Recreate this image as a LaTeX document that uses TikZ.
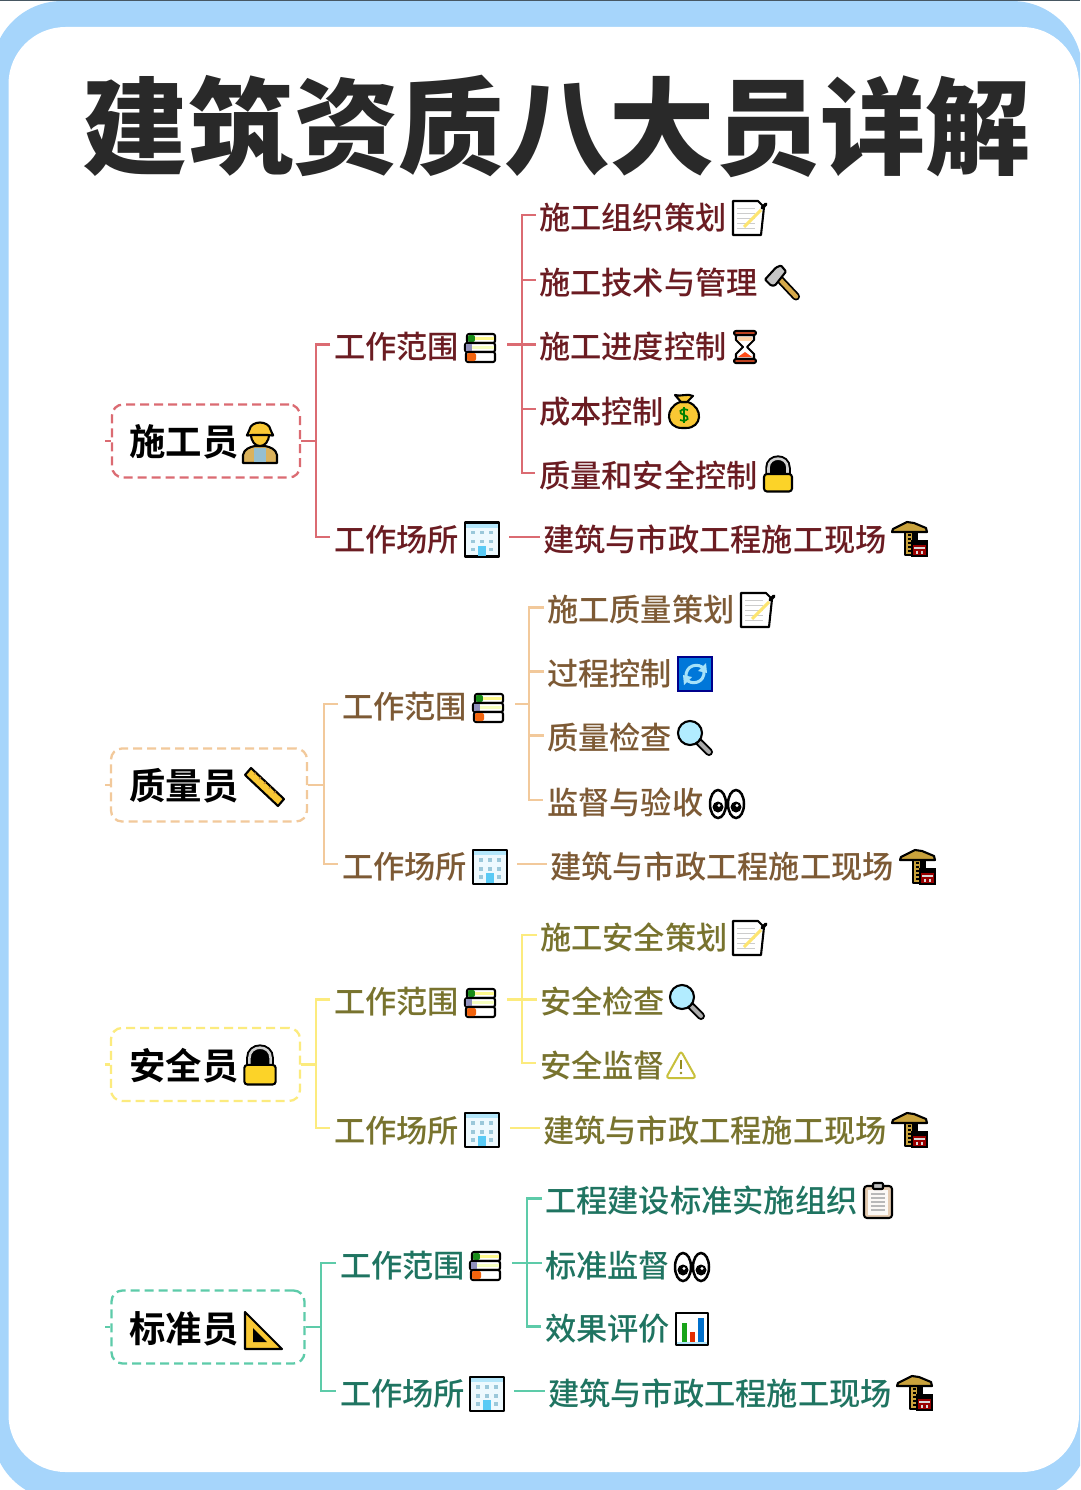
\documentclass[tikz,border=0pt]{standalone}
\usepackage{fontspec}
\newfontfamily\cjk{Noto Sans CJK SC Medium}
\newfontfamily\cjkb{Noto Sans CJK SC Bold}
\newfontfamily\cjkk{Noto Sans CJK SC Black}
\definecolor{bandc}{HTML}{A6D5FB}
\definecolor{icy}{HTML}{F9C834}
\definecolor{ictan}{HTML}{D6A94A}
\definecolor{icgold}{HTML}{C9A23C}
\tikzset{
 leaf/.style={anchor=west,xshift=-1pt,inner sep=0pt,text height=28.7pt,text depth=0pt,text=txc,font=\cjk\fontsize{31.25}{31.25}\selectfont},
 roott/.style={anchor=west,inner sep=0pt,text height=27.7pt,text depth=0pt,text=black,font=\cjkb\fontsize{36.4}{36.4}\selectfont},
 rootbox/.style={draw=lnc,line width=2.3pt,dash pattern=on 9pt off 5pt,rounded corners=11pt,minimum height=73pt,inner sep=0pt},
 conn/.style={draw=lnc,line width=2.4pt},
 ico/.style={draw=black,line width=2.1pt,line join=round,line cap=round},
 pics/icbooks/.style={code={
  \draw[ico,fill=white,rounded corners=2pt](15,-14)--(-13,-14)--(-13,-5)--(15,-5)--cycle;
  \fill[green!50!black!90,rounded corners=2pt](-12,-13) rectangle (-5,-6);\fill[yellow!45!white](-5,-11) rectangle (14,-8);
  \draw[ico,fill=white,rounded corners=2pt](15,-5)--(-15,-5)--(-15,4)--(15,4)--cycle;
  \fill[blue!25!gray!70](-14,-4) rectangle (-8,3);\fill[green!15!yellow!25!white](-8,-2) rectangle (14,1);
  \draw[ico,fill=white,rounded corners=2pt](15,4)--(-14,4)--(-14,14)--(15,14)--cycle;
  \fill[orange!75!red!90!gray,rounded corners=2pt](-13,5) rectangle (-4,13);
 }},
 pics/icbuilding/.style={code={
  \draw[ico,fill=cyan!7!white](-17,-17) rectangle (17,17);
  \fill[cyan!30!white](-16,-16) rectangle (16,-12);
  \foreach \a in {-9,0,9}\foreach \b in {-7,2}{\fill[cyan!50!gray!60](\a-1.8,\b-1.8) rectangle (\a+1.8,\b+1.8);}
  \fill[cyan!50!gray!60](-10.8,8) rectangle (-7.2,11.6);\fill[cyan!50!gray!60](7.2,8) rectangle (10.8,11.6);
  \fill[cyan!65!white](-4,6) rectangle (4,16);
 }},
 pics/icworker/.style={code={
  \draw[ico,fill=ictan!90!white](-17,20)--(-17,12) .. controls (-16,6) and (-10,4) .. (-5,3)--(5,3) .. controls (10,4) and (16,6) .. (17,12)--(17,20)--cycle;
  \fill[blue!30!cyan!40!gray!60](-6,5) rectangle (6,19);
  \draw[ico,fill=icy](-9,-9) .. controls (-9,7) and (9,7) .. (9,-9)--cycle;
  \draw[ico,fill=icy,rounded corners=2pt](-14,-7)--(-11,-11) .. controls (-9,-23) and (9,-23) .. (11,-11)--(14,-7)--(10,-8)--(-10,-8)--cycle;
 }},
 pics/icmemo/.style={code={
  \draw[ico,fill=white](-17,-17)--(8,-17)--(14,-11)--(11,17)--(-17,17)--cycle;
  \foreach \b in {-10,-5,0,5,10}{\draw[gray!40,line width=.9pt](-13,\b)--(5,\b);}
  \draw[yellow!70!orange!55!white,line width=3pt](-6,9)--(11,-8);
  \draw[black,line width=3.5pt,line cap=round](12,-10)--(16,-14);
 }},
 pics/ichammer/.style={code={
  \draw[black,line width=8pt,line cap=round](-2,-3)--(14,14);
  \draw[ictan,line width=4.4pt,line cap=round](-2,-3)--(14,14);
  \draw[ico,fill=gray!45,rounded corners=1pt](-17,-3)--(-6,-15)--(-1,-17)--(4,-11)--(-7,3)--(-11,3)--cycle;
 }},
 pics/ichourglass/.style={code={
  \draw[ico,fill=white](-9,-12)--(-9,-7)--(-2,0)--(-9,7)--(-9,12)--(9,12)--(9,7)--(2,0)--(9,-7)--(9,-12)--cycle;
  \fill[orange!35!white](-7,-10) rectangle (7,-6);
  \fill[red!55!orange!90!white](-7,10)--(7,10)--(0,5)--cycle;
  \draw[ico,fill=brown!60!red,rounded corners=2pt](-11,-16) rectangle (11,-12);
  \draw[ico,fill=brown!60!red,rounded corners=2pt](-11,12) rectangle (11,16);
 }},
 pics/icbag/.style={code={
  \draw[ico,fill=icy](-4,-9) .. controls (-20,-3) and (-18,17) .. (-2,17)--(2,17) .. controls (18,17) and (20,-3) .. (4,-9)--cycle;
  \draw[ico,fill=icy](-3,-9)--(-9,-16) .. controls (-4,-14) and (4,-18) .. (9,-15)--(3,-9)--cycle;
  \draw[green!50!black,line width=1.7pt](4,-1) .. controls (-5,-4) and (-6,3) .. (0,4) .. controls (6,5) and (5,12) .. (-4,9);
  \draw[green!50!black,line width=1.3pt](0,-4)--(0,12);
 }},
 pics/iclock/.style={code={
  \path[draw=black,fill=black,line width=6.5pt](-9.5,0)--(-9.5,-7) .. controls (-9.5,-19.5) and (9.5,-19.5) .. (9.5,-7)--(9.5,0);
  \draw[gray!35,line width=2.6pt](-9.5,0)--(-9.5,-7) .. controls (-9.5,-19.5) and (9.5,-19.5) .. (9.5,-7)--(9.5,0);
  \draw[ico,fill=yellow!65!orange!85!white,rounded corners=3pt](-14,-1) rectangle (14,16.5);
 }},
 pics/iccrane/.style={code={
  \draw[ico,fill=icgold](-5,-8) rectangle (3,16);
  \draw[ico,fill=icgold](-18,-7)--(-17,-10)--(-3,-17)--(4,-16)--(16,-11)--(17,-7)--cycle;
  \fill[black](-2,-5) rectangle (1,15);
  \foreach \b in {-3,1,5,9,13}{\fill[icgold](-3,\b) rectangle (2,\b+1.6);}
  \fill[black](3,-6) rectangle (8,3);
  \fill[black](1,1) rectangle (18,18);
  \fill[red!60!black](3,6) rectangle (16,16);
  \draw[gray!30,line width=1.1pt](4,9)--(15,9);
  \draw[gray!30,line width=1.1pt](7,11.5)--(7,15);
  \draw[gray!30,line width=1.1pt](12,11.5)--(12,15);
 }},
 pics/icruler/.style={code={
  \draw[ico,fill=icy](-19,-12)--(-13,-19)--(20,12)--(14,19)--cycle;
  \foreach \t in {.15,.3,...,.9}{\draw[brown,line width=.8pt]($(-13,-19)!\t!(20,12)$)--++(-2,2);}
 }},
 pics/iccycle/.style={code={
  \draw[draw=blue!55!black,line width=2pt,fill=blue!45!cyan!85!black](-17,-17) rectangle (17,17);
  \draw[cyan!35!white,line width=3pt](-9,3) .. controls (-10,-9) and (4,-12) .. (9,-5);
  \draw[cyan!35!white,line width=3pt](9,-3) .. controls (10,9) and (-4,12) .. (-9,5);
  \fill[cyan!35!white](11,-11)--(12,-1)--(3,-3)--cycle;
  \fill[cyan!35!white](-11,11)--(-12,1)--(-3,3)--cycle;
 }},
 pics/iclens/.style={code={
  \draw[black,line width=8pt,line cap=round](4,4)--(14,14);
  \draw[gray!65,line width=4pt,line cap=round](5,5)--(14,14);
  \draw[ico,fill=blue!25!cyan!30!white](-5,-5) circle[radius=12];
 }},
 pics/iceyes/.style={code={
  \foreach \a in {-9,9}{
   \draw[black,fill=white,line width=2.5pt](\a,0) ellipse[x radius=8,y radius=14];
   \fill[black](\a,3) circle[radius=5.5];
   \fill[white](\a+1,1.5) circle[radius=1.6];}
 }},
 pics/icwarn/.style={code={
  \draw[draw=yellow!30!olive!70!white,line width=2pt,rounded corners=3pt,line join=round](0,-14)--(15,13)--(-15,13)--cycle;
  \draw[draw=yellow!30!olive!80!black,line width=2pt](0,-5)--(0,4);
  \fill[yellow!30!olive!80!black](0,8) circle[radius=1.4];
 }},
 pics/icclip/.style={code={
  \draw[ico,fill=brown!40!white,rounded corners=3pt](-14,-14) rectangle (14,18);
  \fill[white!95!brown](-10,-10) rectangle (10,15);
  \draw[ico,fill=gray!50,rounded corners=1pt](-5,-17) rectangle (5,-11);
  \foreach \b in {-6,-2,2,6,10}{\draw[gray!55,line width=1.3pt](-7,\b)--(7,\b);}
 }},
 pics/icchart/.style={code={
  \draw[ico,fill=white](-16,-16) rectangle (16,16);
  \fill[green!60!black!90](-10,-6) rectangle (-5,15);
  \fill[red!60!orange!90!black](-2,3) rectangle (3,15);
  \fill[blue!45!cyan!80!black](6,-11) rectangle (12,15);
  \fill[cyan!30!white](-15,13) rectangle (15,15);
 }},
 pics/ictri/.style={code={
  \draw[ico,fill=icy](-18,-19)--(-18,18)--(19,18)--cycle;
  \fill[black](-10,-3)--(-10,11)--(4,11)--cycle;
 }},
}
\usetikzlibrary{calc}
\begin{document}
\begin{tikzpicture}[x=1pt,y=-1pt]
\useasboundingbox (0,0) rectangle (1080,1490);
\clip (0,0) rectangle (1080,1490);
\fill[white] (0,0) rectangle (1080,1490);
\fill[bandc,rounded corners=70pt] (-8,1)--(1082,1)--(1090,1500)--(-8,1500)--cycle;
\fill[black!70!cyan] (0,0) rectangle (1080,1.2);
\fill[white,rounded corners=57pt] (8.5,27) rectangle (1079,1472);
\node[anchor=base,inner sep=0pt,text=black!84,font=\cjkk\fontsize{105.4}{105.4}\selectfont] (title) at (557,167) {建筑资质八大员详解};

% ---------- red
\begin{scope}
\definecolor{lnc}{HTML}{DB6B72}\definecolor{txc}{HTML}{6B1C22}
\node[rootbox,minimum width=188pt] (r1) at (206,441) {};
\node[roott] (rt1) at (129,442) {施工员};
\pic at (260,443) {icworker};
\coordinate (l1) at (105,441);\coordinate (s1) at (316,441);\coordinate (q1) at (522,344.5);
\node[leaf] (b1a) at (335,344.5) {工作范围};
\node[leaf] (b1b) at (335,537) {工作场所};
\node[leaf] (c1a) at (540,215) {施工组织策划};
\node[leaf] (c1b) at (540,280) {施工技术与管理};
\node[leaf] (c1c) at (540,344.5) {施工进度控制};
\node[leaf] (c1d) at (540,409) {成本控制};
\node[leaf] (c1e) at (540,473) {质量和安全控制};
\node[leaf] (c1f) at (544,537) {建筑与市政工程施工现场};
\pic at (480,348) {icbooks};\pic at (482,539.5) {icbuilding};
\pic at (750,218) {icmemo};\pic at (782,282.5) {ichammer};\pic at (745,347) {ichourglass};
\pic at (684,411) {icbag};\pic at (778,475) {iclock};\pic at (910,539) {iccrane};
\coordinate (e1a) at (507,344.5);\coordinate (e1b) at (509,537);
\draw[conn] (l1)--(r1.west);
\draw[conn] (r1.east)--(s1);
\draw[conn,shorten <=4pt,shorten >=4pt] (b1a.west)--(b1a.west -| s1)--(b1b.west -| s1)--(b1b.west);
\draw[conn] (e1a)--(q1);
\draw[conn,shorten <=3pt,shorten >=4pt] (c1a.west)--(c1a.west -| q1)--(c1e.west -| q1)--(c1e.west);
\draw[conn,shorten >=3pt] (q1 |- c1b.west)--(c1b.west);
\draw[conn,shorten >=3pt] (q1)--(c1c.west);
\draw[conn,shorten >=3pt] (q1 |- c1d.west)--(c1d.west);
\draw[conn,shorten >=3pt] (e1b)--(c1f.west);
\end{scope}

% ---------- orange
\begin{scope}
\definecolor{lnc}{HTML}{F2C99B}\definecolor{txc}{HTML}{7D5A35}
\node[rootbox,minimum width=196pt] (r2) at (209,785) {};
\node[roott] (rt2) at (129,786) {质量员};
\pic at (264,787) {icruler};
\coordinate (l2) at (105,785);\coordinate (s2) at (324,785);\coordinate (q2) at (529,704);
\node[leaf] (b2a) at (343,704) {工作范围};
\node[leaf] (b2b) at (343,864) {工作场所};
\node[leaf] (c2a) at (548,607.5) {施工质量策划};
\node[leaf] (c2b) at (548,671.5) {过程控制};
\node[leaf] (c2c) at (548,735.5) {质量检查};
\node[leaf] (c2d) at (548,800) {监督与验收};
\node[leaf] (c2f) at (551,864) {建筑与市政工程施工现场};
\pic at (488,708) {icbooks};\pic at (490,867) {icbuilding};
\pic at (758,610) {icmemo};\pic at (695,674) {iccycle};\pic at (695,738) {iclens};
\pic at (727,804) {iceyes};\pic at (918,867) {iccrane};
\coordinate (e2a) at (515,704);\coordinate (e2b) at (517,864);
\draw[conn] (l2)--(r2.west);
\draw[conn] (r2.east)--(s2);
\draw[conn,shorten <=4pt,shorten >=4pt] (b2a.west)--(b2a.west -| s2)--(b2b.west -| s2)--(b2b.west);
\draw[conn] (e2a)--(q2);
\draw[conn,shorten <=3pt,shorten >=4pt] (c2a.west)--(c2a.west -| q2)--(c2d.west -| q2)--(c2d.west);
\draw[conn,shorten >=3pt] (q2 |- c2b.west)--(c2b.west);
\draw[conn,shorten >=3pt] (q2 |- c2c.west)--(c2c.west);
\draw[conn,shorten >=3pt] (e2b)--(c2f.west);
\end{scope}

% ---------- yellow
\begin{scope}
\definecolor{lnc}{HTML}{FCEB7E}\definecolor{txc}{HTML}{78732E}
\node[rootbox,minimum width=189pt] (r3) at (205.5,1064.5) {};
\node[roott] (rt3) at (129,1066) {安全员};
\pic[scale=1.12] at (260,1066) {iclock};
\coordinate (l3) at (105,1064.5);\coordinate (s3) at (316,1064.5);\coordinate (q3) at (522,999.5);
\node[leaf] (b3a) at (335,999.5) {工作范围};
\node[leaf] (b3b) at (335,1128) {工作场所};
\node[leaf] (c3a) at (541,935) {施工安全策划};
\node[leaf] (c3b) at (541,999.5) {安全检查};
\node[leaf] (c3c) at (541,1063) {安全监督};
\node[leaf] (c3f) at (544,1128) {建筑与市政工程施工现场};
\pic at (480,1003) {icbooks};\pic at (482,1130) {icbuilding};
\pic at (750,938) {icmemo};\pic at (687,1002) {iclens};\pic at (681,1065) {icwarn};
\pic at (910,1130) {iccrane};
\coordinate (e3a) at (507,999.5);\coordinate (e3b) at (510,1128);
\draw[conn] (l3)--(r3.west);
\draw[conn] (r3.east)--(s3);
\draw[conn,shorten <=4pt,shorten >=4pt] (b3a.west)--(b3a.west -| s3)--(b3b.west -| s3)--(b3b.west);
\draw[conn] (e3a)--(q3);
\draw[conn,shorten <=3pt,shorten >=4pt] (c3a.west)--(c3a.west -| q3)--(c3c.west -| q3)--(c3c.west);
\draw[conn,shorten >=3pt] (q3)--(c3b.west);
\draw[conn,shorten >=3pt] (e3b)--(c3f.west);
\end{scope}

% ---------- green
\begin{scope}
\definecolor{lnc}{HTML}{5DCBA9}\definecolor{txc}{HTML}{1F7461}
\node[rootbox,minimum width=193pt] (r4) at (208,1327) {};
\node[roott] (rt4) at (129,1329) {标准员};
\pic at (263,1331) {ictri};
\coordinate (l4) at (105,1327);\coordinate (s4) at (321,1327);\coordinate (q4) at (527,1263);
\node[leaf] (b4a) at (341,1263) {工作范围};
\node[leaf] (b4b) at (341,1391) {工作场所};
\node[leaf] (c4a) at (546,1198.5) {工程建设标准实施组织};
\node[leaf] (c4b) at (546,1263) {标准监督};
\node[leaf] (c4c) at (546,1326.5) {效果评价};
\node[leaf] (c4f) at (549,1391) {建筑与市政工程施工现场};
\pic at (485,1266) {icbooks};\pic at (487,1394) {icbuilding};
\pic at (878,1200) {icclip};\pic at (692,1267) {iceyes};\pic at (692,1329) {icchart};
\pic at (915,1393) {iccrane};
\coordinate (e4a) at (512,1263);\coordinate (e4b) at (514,1391);
\draw[conn] (l4)--(r4.west);
\draw[conn] (r4.east)--(s4);
\draw[conn,shorten <=4pt,shorten >=4pt] (b4a.west)--(b4a.west -| s4)--(b4b.west -| s4)--(b4b.west);
\draw[conn] (e4a)--(q4);
\draw[conn,shorten <=3pt,shorten >=4pt] (c4a.west)--(c4a.west -| q4)--(c4c.west -| q4)--(c4c.west);
\draw[conn,shorten >=3pt] (q4)--(c4b.west);
\draw[conn,shorten >=3pt] (e4b)--(c4f.west);
\end{scope}
\end{tikzpicture}
\end{document}
